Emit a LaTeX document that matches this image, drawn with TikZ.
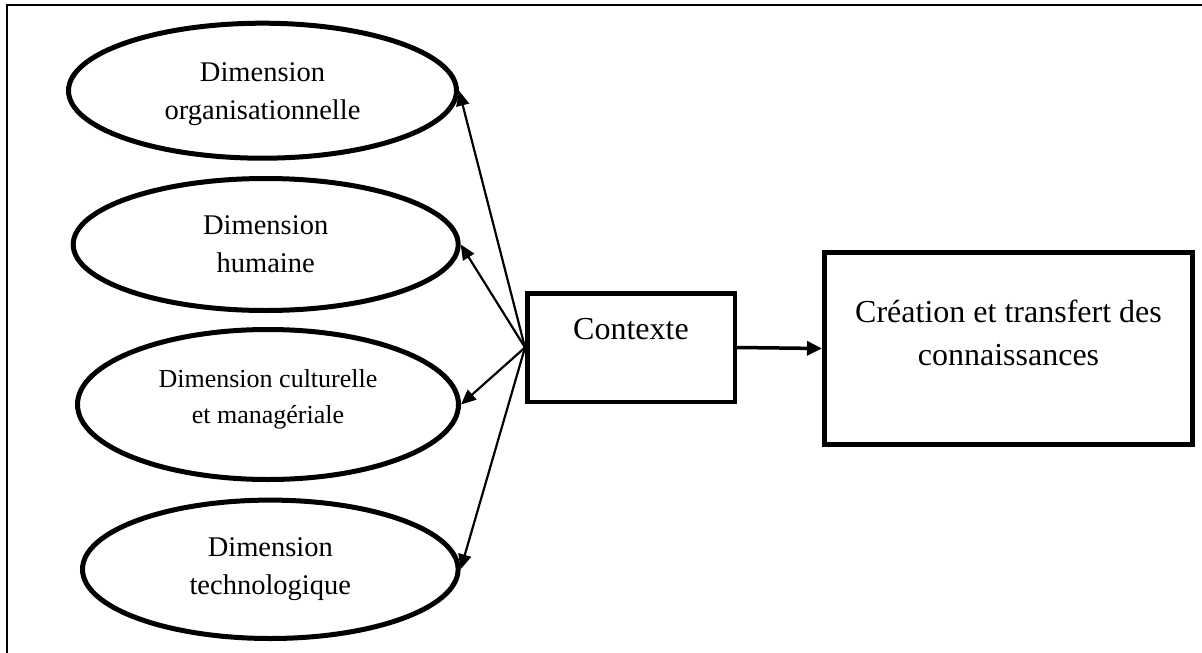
\documentclass[tikz,border=0pt]{standalone}
\usepackage{fontspec}
\setmainfont{Liberation Serif}
\usetikzlibrary{shapes.geometric,arrows.meta}

\tikzset{
  dimension/.style={ellipse, draw, line width=5pt, inner sep=0pt, align=center,
    font=\fontsize{28.5}{38}\selectfont},
  blockbox/.style={rectangle, draw, inner sep=0pt, align=center,
    font=\fontsize{32}{43}\selectfont},
  link/.style={line width=2.2pt, -{Triangle[length=15pt,width=13pt]}},
  mainlink/.style={line width=3.5pt, -{Triangle[length=15pt,width=14pt]}},
  frameline/.style={line width=2pt, line cap=rect}
}

\begin{document}
\begin{tikzpicture}[x=1pt,y=-1pt]
  \useasboundingbox (0,0) rectangle (1202,653);

  % open frame: top and left borders only
  \coordinate (fbl) at (6.5,653);
  \coordinate (ftl) at (6.5,5);
  \coordinate (ftr) at (1202,5);
  \draw[frameline] (fbl) -- (ftl) -- (ftr);

  % the four dimensions
  \node[dimension, minimum width=388pt, minimum height=135pt, text depth=0pt] (org) at (262.5,90.7)
    {Dimension\\organisationnelle};
  \node[dimension, minimum width=385pt, minimum height=132pt] (hum) at (265.7,244.5)
    {Dimension\\humaine};
  \node[dimension, minimum width=381pt, minimum height=150pt, text depth=17pt,
        font=\fontsize{26}{36}\selectfont] (cult) at (268,404.5)
    {Dimension culturelle\\et managériale};
  \node[dimension, minimum width=375.6pt, minimum height=138.4pt] (tech) at (270.3,569.3)
    {Dimension\\technologique};

  % context box
  \node[blockbox, line width=4.5pt, minimum width=207.5pt, minimum height=108.5pt,
        text depth=37pt] (ctx) at (631,347.5) {Contexte};

  % outcome box
  \node[blockbox, line width=5pt, minimum width=368pt, minimum height=192pt,
        text depth=32pt] (cre) at (1008.5,348.5) {Création et transfert des\\connaissances};

  % connectors
  \draw[link] (ctx.west) -- (org.east);
  \draw[link] (ctx.west) -- (hum.east);
  \draw[link] (ctx.west) -- (cult.east);
  \draw[link] (ctx.west) -- (tech.east);
  \draw[mainlink] (ctx.east) -- (cre.west);
\end{tikzpicture}
\end{document}
